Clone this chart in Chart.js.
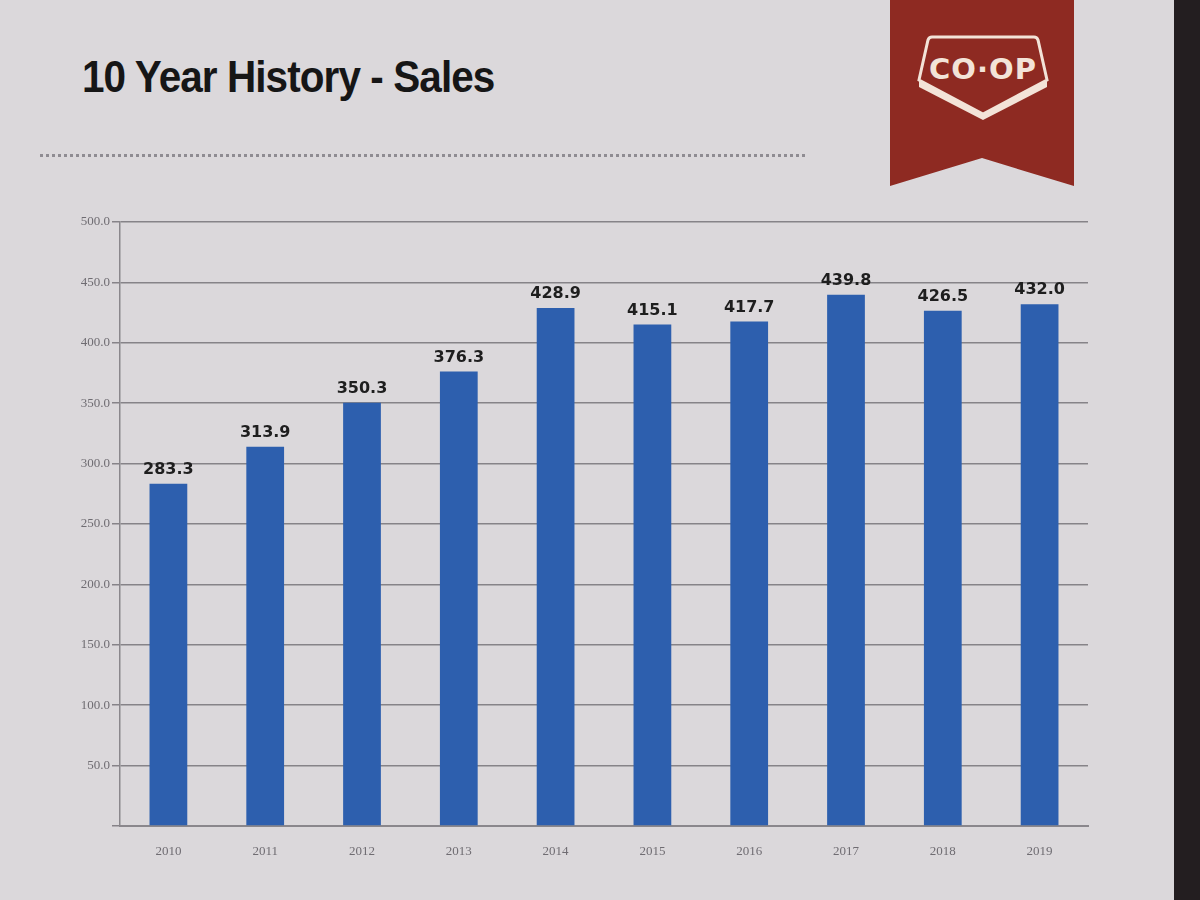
<!DOCTYPE html>
<html>
<head>
<meta charset="utf-8">
<script src="https://cdn.jsdelivr.net/npm/chart.js@4.4.1/dist/chart.umd.min.js"></script>
<style>
  html, body { margin: 0; padding: 0; }
  body {
    width: 1200px; height: 900px; overflow: hidden; position: relative;
    background: #dbd8db;
    font-family: "Liberation Sans", Arial, sans-serif;
  }
  #title {
    position: absolute; left: 82px; top: 52px;
    font-size: 44px; font-weight: bold; color: #161616;
    white-space: nowrap; transform-origin: 0 0; transform: scaleX(0.92);
    letter-spacing: -1px;
  }
  #dots {
    position: absolute; left: 40px; top: 154px; width: 765px;
    border-top: 3px dotted #8f8c92;
  }
  #ribbon {
    position: absolute; left: 890px; top: 0; width: 184px; height: 186px;
    background: #8e2a22;
    clip-path: polygon(0 0, 100% 0, 100% 100%, 50% 85%, 0 100%);
  }
  #logo { position: absolute; left: 916px; top: 34px; }
  #edge { position: absolute; left: 1174px; top: 0; width: 26px; height: 900px; background: #231e20; }
  #wrap { position: absolute; left: 60px; top: 210px; width: 1030px; height: 660px; }
</style>
</head>
<body>
<div id="title">10 Year History - Sales</div>
<div id="dots"></div>
<div id="ribbon"></div>
<svg id="logo" width="134" height="90" viewBox="0 0 134 90">
  <path d="M16 3 L118 3 Q121 3 122 6 L131 46 L67 80 L3 46 L12 6 Q13 3 16 3 Z" fill="none" stroke="#f3e3d8" stroke-width="3"/>
  <path d="M3 46 L67 80 L131 46 L131 53 L67 86 L3 53 Z" fill="#f3e3d8"/>
  <text x="67" y="45" text-anchor="middle" font-family="DejaVu Sans" font-weight="bold" font-size="29" letter-spacing="1" fill="#f3e3d8">CO·OP</text>
</svg>
<div id="edge"></div>
<div id="wrap"><canvas id="salesChart"></canvas></div>
<script>
const years = ["2010", "2011", "2012", "2013", "2014", "2015", "2016", "2017", "2018", "2019"];
const sales = [283.3, 313.9, 350.3, 376.3, 428.9, 415.1, 417.7, 439.8, 426.5, 432.0];
const yTicks = [0, 50, 100, 150, 200, 250, 300, 350, 400, 450, 500];

// value labels above each bar
const barLabels = {
    id: "barLabels",
    afterDatasetsDraw(chart) {
        const ctx = chart.ctx;
        const meta = chart.getDatasetMeta(0);
        ctx.save();
        ctx.font = "bold 16px 'DejaVu Sans', sans-serif";
        ctx.fillStyle = "#1e1e1e";
        ctx.textAlign = "center";
        ctx.textBaseline = "bottom";
        meta.data.forEach(function (bar, i) {
            ctx.fillText(sales[i].toFixed(1), bar.x, bar.y - 6);
        });
        ctx.restore();
    }
};

new Chart(document.getElementById("salesChart"), {
    type: "bar",
    data: {
        labels: years,
        datasets: [{
            data: sales,
            backgroundColor: "#2d5fae",
            borderWidth: 0,
            categoryPercentage: 1.0,
            barPercentage: 0.39
        }]
    },
    options: {
        responsive: true,
        maintainAspectRatio: false,
        animation: false,
        layout: { padding: { top: 12, right: 2 } },
        plugins: {
            legend: { display: false },
            tooltip: { enabled: false }
        },
        scales: {
            x: {
                grid: { display: false },
                border: { color: "#8a878c", width: 2 },
                ticks: { color: "#6f6c72", font: { family: "Liberation Serif", size: 13 }, padding: 10 },
                afterFit(scale) { scale.height = 44; }
            },
            y: {
                min: 0,
                max: 500,
                afterBuildTicks(scale) { scale.ticks = yTicks.map(v => ({ value: v })); },
                grid: { color: "#868388", lineWidth: 1.5, tickLength: 8 },
                border: { color: "#8a878c", width: 1.5 },
                ticks: {
                    color: "#6f6c72",
                    font: { family: "Liberation Serif", size: 13 },
                    padding: 2,
                    callback: v => v === 0 ? "" : v.toFixed(1)
                },
                afterFit(scale) { scale.width = 60; }
            }
        }
    },
    plugins: [barLabels]
});
</script>
</body>
</html>
